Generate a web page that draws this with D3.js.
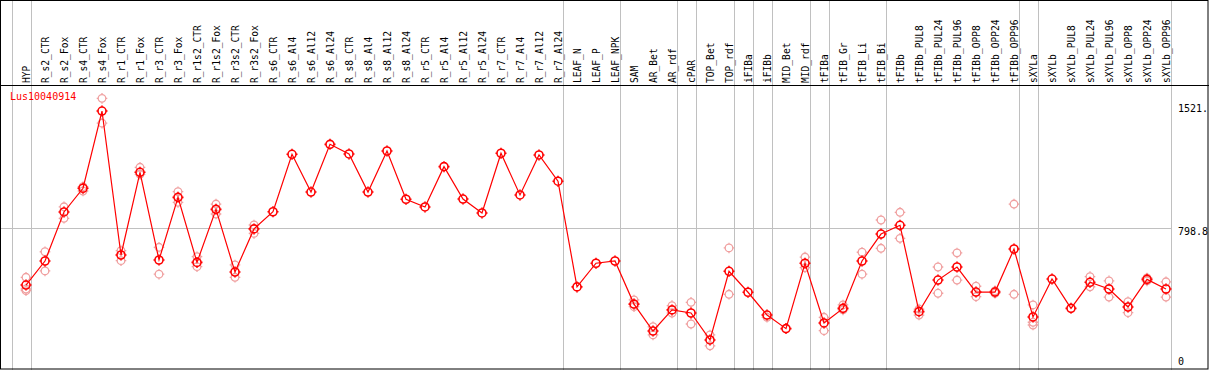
<!DOCTYPE html>
<html>
<head>
<meta charset="utf-8">
<script src="https://cdn.jsdelivr.net/npm/d3@7"></script>
<style>
  body { margin: 0; background: #fff; }
  svg { display: block; }
  text { font-family: "DejaVu Sans Mono", "Liberation Mono", monospace; font-size: 10px; }
  .lab { font-size: 9.6px; }
</style>
</head>
<body>
<div id="chart"></div>
<script>
const geneName = "Lus10040914";

const samples = ["HYP", "R_s2_CTR", "R_s2_Fox", "R_s4_CTR", "R_s4_Fox", "R_r1_CTR", "R_r1_Fox",
  "R_r3_CTR", "R_r3_Fox", "R_r1s2_CTR", "R_r1s2_Fox", "R_r3s2_CTR", "R_r3s2_Fox",
  "R_s6_CTR", "R_s6_Al4", "R_s6_Al12", "R_s6_Al24", "R_s8_CTR", "R_s8_Al4", "R_s8_Al12", "R_s8_Al24",
  "R_r5_CTR", "R_r5_Al4", "R_r5_Al12", "R_r5_Al24", "R_r7_CTR", "R_r7_Al4", "R_r7_Al12", "R_r7_Al24",
  "LEAF_N", "LEAF_P", "LEAF_NPK", "SAM", "AR_Bet", "AR_rdf", "cPAR", "TOP_Bet", "TOP_rdf",
  "iFIBa", "iFIBb", "MID_Bet", "MID_rdf", "tFIBa", "tFIB_Gr", "tFIB_Li", "tFIB_Bi", "tFIBb",
  "tFIBb_PUL8", "tFIBb_PUL24", "tFIBb_PUL96", "tFIBb_OPP8", "tFIBb_OPP24", "tFIBb_OPP96",
  "sXYLa", "sXYLb", "sXYLb_PUL8", "sXYLb_PUL24", "sXYLb_PUL96", "sXYLb_OPP8", "sXYLb_OPP24", "sXYLb_OPP96"];

// mean expression per sample
const means = [466, 606, 892, 1030, 1480, 641, 1123,
  612, 977, 598, 907, 542, 793,
  893, 1228, 1008, 1286, 1230, 1008, 1247, 966,
  921, 1156, 967, 886, 1234, 991, 1224, 1071,
  455, 593, 606, 355, 198, 321, 303, 146, 546,
  424, 291, 212, 593, 245, 330, 606, 763, 814,
  311, 495, 571, 425, 425, 676,
  280, 501, 330, 482, 443, 338, 499, 443];

// replicate values per sample (empty = single measure)
const replicates = [[511, 443, 433], [660, 548], [922, 855], [1039, 1014], [1554, 1409], [666, 608], [1152, 1111],
  [686, 529], [1010, 948], [631, 573], [938, 880], [583, 511], [816, 767],
  [], [], [], [], [], [], [], [],
  [], [], [], [], [], [], [], [],
  [], [], [], [379, 340], [223, 175], [346, 303], [365, 239], [175, 112], [682, 412],
  [], [278], [], [629, 567], [278, 200], [350, 321], [657, 529], [845, 680], [890, 738],
  [326, 291], [571, 418], [653, 495], [459, 398], [432, 418], [938, 412],
  [350, 249, 233], [], [], [515, 456], [490, 396], [369, 305], [507, 490], [485, 396]];

// last sample of each group (a grey separator follows it)
const groupEnds = ["HYP", "R_r7_Al24", "LEAF_NPK", "AR_rdf", "cPAR", "TOP_rdf", "iFIBa", "iFIBb",
  "MID_rdf", "tFIBa", "tFIB_Bi", "tFIBb_OPP96", "sXYLa", "sXYLb_OPP96"];

const axisTicks = [0, 798.8, 1521];
const axisLabels = ["0", "798.8", "1521."];

const width = 1209, height = 370;
const headerH = 85;

const x = d3.scalePoint().domain(samples).range([26, 1166]);
const y = d3.scaleLinear().domain([0, 1521]).range([365, 104]);

const svg = d3.select("#chart").append("svg")
    .attr("width", width)
    .attr("height", height);

const grey = "#c0c0c0";

// grey separators, full height
const sepX = [x(samples[0]) - x.step() + 4.5].concat(groupEnds.map((s) => x(s) + 4.5));
svg.selectAll(".sep")
    .data(sepX)
    .enter().append("line")
    .attr("class", "sep")
    .attr("x1", (d) => Math.round(d) + 0.5)
    .attr("x2", (d) => Math.round(d) + 0.5)
    .attr("y1", 0)
    .attr("y2", height)
    .attr("stroke", grey);

// horizontal mid grid line
svg.append("line")
    .attr("x1", 0).attr("x2", Math.round(sepX[sepX.length - 1]) + 0.5)
    .attr("y1", Math.round(y(798.8)) + 0.5).attr("y2", Math.round(y(798.8)) + 0.5)
    .attr("stroke", grey);

// header labels
svg.selectAll(".lab")
    .data(samples)
    .enter().append("text")
    .attr("class", "lab")
    .attr("transform", (d) => "translate(" + (x(d) + 4) + "," + (headerH - 2) + ") rotate(-90)")
    .attr("fill", "#000")
    .text((d) => d);

// right axis labels (hang below the value, kept inside the frame)
svg.selectAll(".ax")
    .data(axisTicks)
    .enter().append("text")
    .attr("class", "ax")
    .attr("x", 1178)
    .attr("y", (d) => Math.min(y(d) + 7.5, height - 5))
    .attr("fill", "#000")
    .text((d, i) => axisLabels[i]);

// gene name
svg.append("text")
    .attr("x", 10).attr("y", 100)
    .attr("fill", "#ff0000")
    .text(geneName);

// marker: circle with four small ticks
function marker(r, t) {
  return "M" + (-r) + ",0A" + r + "," + r + " 0 1,0 " + r + ",0A" + r + "," + r + " 0 1,0 " + (-r) + ",0" +
    "M0," + (-r - t) + "V" + (-r) + "M0," + r + "V" + (r + t) +
    "M" + (-r - t) + ",0H" + (-r) + "M" + r + ",0H" + (r + t);
}

// replicates
const reps = [];
samples.forEach((s, i) => replicates[i].forEach((v) => reps.push({ s: s, v: v })));
svg.selectAll(".rep")
    .data(reps)
    .enter().append("path")
    .attr("class", "rep")
    .attr("transform", (d) => "translate(" + x(d.s) + "," + y(d.v) + ")")
    .attr("d", marker(3.8, 1.5))
    .attr("fill", "none")
    .attr("stroke", "#f0a0a0")
    .attr("stroke-width", 1.3);

// mean line
const line = d3.line()
    .x((d, i) => x(samples[i]))
    .y((d) => y(d));
svg.append("path")
    .datum(means)
    .attr("d", line)
    .attr("fill", "none")
    .attr("stroke", "#ff0000")
    .attr("stroke-width", 1.2);

svg.selectAll(".mean")
    .data(means)
    .enter().append("path")
    .attr("class", "mean")
    .attr("transform", (d, i) => "translate(" + x(samples[i]) + "," + y(d) + ")")
    .attr("d", marker(4, 1.5))
    .attr("fill", "none")
    .attr("stroke", "#ff0000")
    .attr("stroke-width", 1.6);

// borders
svg.append("rect")
    .attr("x", 0.5).attr("y", 0.5)
    .attr("width", width - 1.5).attr("height", height - 1.5)
    .attr("fill", "none").attr("stroke", "#000");
svg.append("line")
    .attr("x1", 0).attr("x2", width)
    .attr("y1", headerH + 0.5).attr("y2", headerH + 0.5)
    .attr("stroke", "#000");
</script>
</body>
</html>
